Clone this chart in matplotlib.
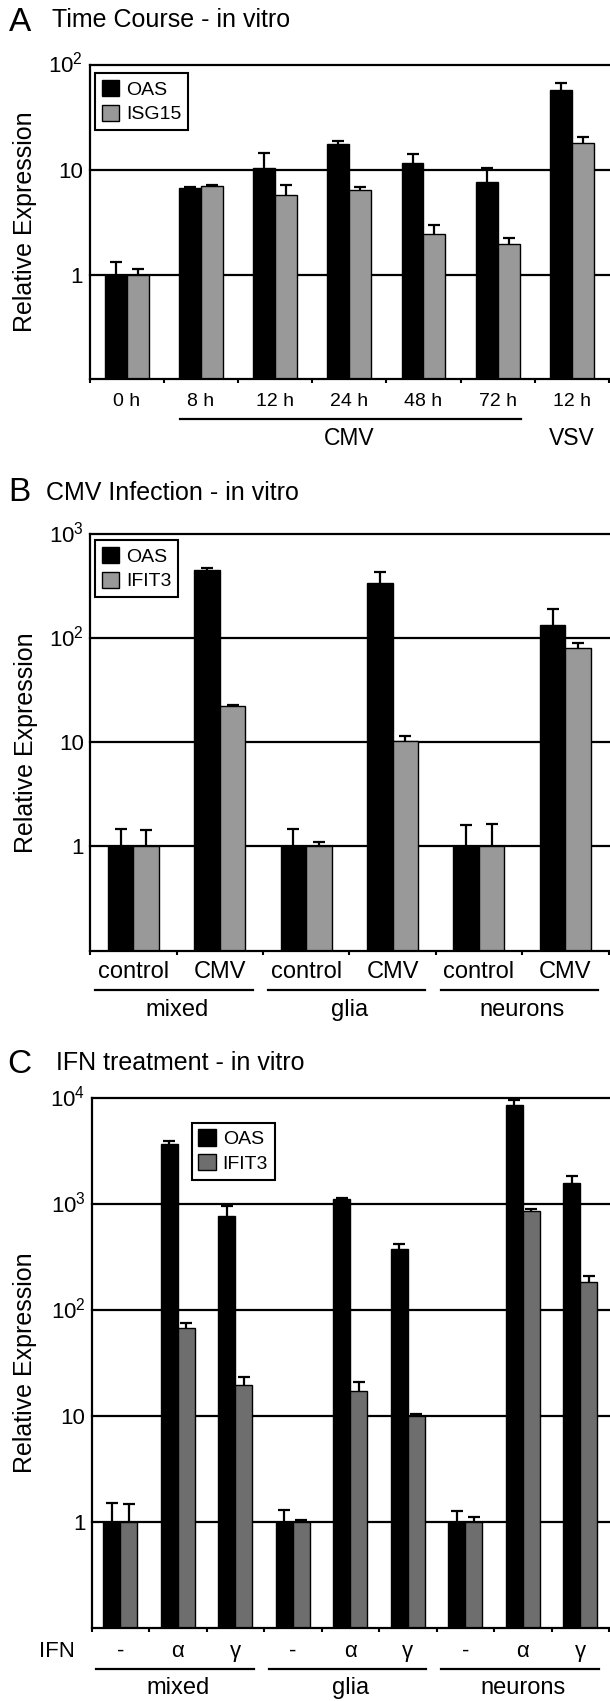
import matplotlib
matplotlib.use("Agg")
import matplotlib.pyplot as plt
import numpy as np
from matplotlib.transforms import offset_copy, ScaledTranslation
from matplotlib.patches import Patch
from matplotlib.lines import Line2D

plt.rcParams['font.family'] = ['Liberation Sans', 'DejaVu Sans']
plt.rcParams['mathtext.fontset'] = 'custom'
plt.rcParams['mathtext.rm'] = 'Liberation Sans'

# ---------------- data ----------------
A_labels = ['0 h', '8 h', '12 h', '24 h', '48 h', '72 h', '12 h']
A_oas = [1.0, 6.7, 10.4, 17.8, 11.5, 7.65, 58.2]
A_oas_top = [1.32, 6.85, 14.5, 18.7, 14.1, 10.4, 68.0]
A_isg = [1.0, 7.0, 5.7, 6.4, 2.46, 1.95, 18.0]
A_isg_top = [1.12, 7.15, 7.2, 6.8, 3.0, 2.25, 20.4]

B_labels = ['control', 'CMV', 'control', 'CMV', 'control', 'CMV']
B_groups = ['mixed', 'glia', 'neurons']
B_oas = [1.0, 450, 1.0, 343, 1.0, 133.5]
B_oas_top = [1.48, 473, 1.48, 433, 1.61, 190]
B_ifit = [1.0, 22.3, 1.0, 10.3, 1.0, 81.6]
B_ifit_top = [1.45, 23.0, 1.1, 11.5, 1.64, 90]

C_labels = ['-', 'α', 'γ', '-', 'α', 'γ', '-', 'α', 'γ']
C_groups = ['mixed', 'glia', 'neurons']
C_oas = [1.0, 3690, 771, 1.0, 1115, 376, 1.0, 8700, 1590]
C_oas_top = [1.51, 3910, 957, 1.29, 1147, 425, 1.26, 9600, 1838]
C_ifit = [1.0, 67, 19.5, 1.0, 17.1, 9.96, 1.0, 865, 185]
C_ifit_top = [1.47, 74.7, 23.4, 1.05, 21, 10.4, 1.11, 891, 210]

LIGHT = '#999999'
DARK = '#6e6e6e'

W, H = 610, 1701
fig = plt.figure(figsize=(W / 100, H / 100), dpi=100)


def axes_px(l, t, r, b):
    return fig.add_axes([l / W, 1 - b / H, (r - l) / W, (b - t) / H])


def draw_panel(ax, oas, oas_top, other, other_top, color, ymax_exp, ylbl_x_px, left_px, width_px):
    n = len(oas)
    x = np.arange(n)
    w = 0.295
    ymin = 0.1
    ax.set_yscale('log')
    ax.set_ylim(ymin, 10 ** ymax_exp)
    ax.set_xlim(-0.5, n - 0.5)
    ax.set_axisbelow(True)
    ax.bar(x - w / 2, np.array(oas) - ymin, width=w, bottom=ymin, color='black',
           edgecolor='black', linewidth=1.0, zorder=2)
    ax.bar(x + w / 2, np.array(other) - ymin, width=w, bottom=ymin, color=color,
           edgecolor='black', linewidth=1.0, zorder=2)
    for xs, v, t in ((x - w / 2, oas, oas_top), (x + w / 2, other, other_top)):
        v = np.array(v, float)
        t = np.array(t, float)
        eb = ax.errorbar(xs, v, yerr=[np.zeros_like(v), t - v], fmt='none', ecolor='black',
                         elinewidth=1.6, capsize=4.3, capthick=1.6, zorder=3)
        eb[1][0].set_visible(False)
    ticks = [10 ** k for k in range(0, ymax_exp + 1)]
    tl = []
    for k in range(0, ymax_exp + 1):
        if k == 0:
            tl.append('1')
        elif k == 1:
            tl.append('10')
        else:
            tl.append(r'$\mathregular{10^{%d}}$' % k)
    ax.set_yticks(ticks, tl)
    ax.yaxis.set_minor_locator(matplotlib.ticker.NullLocator())
    ax.tick_params(axis='y', length=0, pad=4.5, labelsize=16)
    for lab in ax.get_yticklabels():
        lab.set_va('baseline')
        lab.set_transform(lab.get_transform() + ScaledTranslation(0, -8 / 100, fig.dpi_scale_trans))
    ax.grid(axis='y', which='major', color='black', linewidth=1.6)
    for gl in ax.get_ygridlines():
        gl.set_clip_on(False)
    ax.set_xticks(x, [''] * n)
    ax.set_xticks(np.arange(-0.5, n), minor=True)
    ax.tick_params(axis='x', which='major', length=0)
    ax.tick_params(axis='x', which='minor', length=3, width=1.5, direction='out', color='black')
    for s in ('top', 'right'):
        ax.spines[s].set_visible(False)
    for s in ('left', 'bottom'):
        ax.spines[s].set_linewidth(1.6)
    ax.set_ylabel('Relative Expression', fontsize=18, va='center')
    ax.yaxis.set_label_coords((ylbl_x_px - left_px) / width_px, 0.5)
    return x


def below(ax, xv, dy, s, fs):
    tr = offset_copy(ax.get_xaxis_transform(), fig=fig, y=-dy, units='dots')
    ax.text(xv, 0, s, transform=tr, ha='center', va='center', fontsize=fs, clip_on=False)


def hline_below(ax, x0, x1, dy):
    tr = offset_copy(ax.get_xaxis_transform(), fig=fig, y=-dy, units='dots')
    ax.add_line(Line2D([x0, x1], [0, 0], transform=tr, color='black', linewidth=1.6, clip_on=False))


def legend(ax, names, colors, x0, y1):
    hs = [Patch(facecolor=c, edgecolor='black', linewidth=1.0) for c in colors]
    lg = ax.legend(hs, names, loc='upper left', bbox_to_anchor=(x0, y1), borderaxespad=0,
                   fancybox=False, edgecolor='black', framealpha=1, fontsize=14,
                   handlelength=0.9, handleheight=0.9, handletextpad=0.35,
                   borderpad=0.35, labelspacing=0.3)
    lg.get_frame().set_linewidth(1.5)
    lg.set_zorder(5)


def title(letter, lx, lbase, text, tx, tbase):
    fig.text(lx / W, 1 - lbase / H, letter, fontsize=24, ha='left', va='baseline')
    fig.text(tx / W, 1 - tbase / H, text, fontsize=18, ha='left', va='baseline')


# ---------------- Panel A ----------------
axA = axes_px(89.5, 65, 609, 379.3)
xA = draw_panel(axA, A_oas, A_oas_top, A_isg, A_isg_top, LIGHT, 2, 25, 89.5, 519.5)
for xi, s in zip(xA, A_labels):
    below(axA, xi, 22.4, s, 14)
hline_below(axA, 0.72, 5.32, 40)
below(axA, 3, 59, 'CMV', 16.5)
below(axA, 6, 59, 'VSV', 16.5)
legend(axA, ['OAS', 'ISG15'], ['black', LIGHT], 0.0106, 0.9736)
title('A', 9, 31, 'Time Course - in vitro', 52, 27)

# ---------------- Panel B ----------------
axB = axes_px(90.3, 534.3, 608.5, 950.5)
xB = draw_panel(axB, B_oas, B_oas_top, B_ifit, B_ifit_top, LIGHT, 3, 26, 90.3, 518.2)
for xi, s in zip(xB, B_labels):
    below(axB, xi, 21.2, s, 17)
for g, name in enumerate(B_groups):
    hline_below(axB, 2 * g - 0.44, 2 * g + 1.38, 39.5)
    below(axB, 2 * g + 0.5, 59.5, name, 17)
legend(axB, ['OAS', 'IFIT3'], ['black', LIGHT], 0.009, 0.986)
title('B', 8, 501, 'CMV Infection - in vitro', 46.5, 500)

# ---------------- Panel C ----------------
axC = axes_px(91.7, 1098.3, 609, 1627.7)
xC = draw_panel(axC, C_oas, C_oas_top, C_ifit, C_ifit_top, DARK, 4, 25, 91.7, 517.3)
for xi, s in zip(xC, C_labels):
    below(axC, xi, 23.3, s, 16)
for g, name in enumerate(C_groups):
    hline_below(axC, 3 * g - 0.42, 3 * g + 2.32, 41.6)
    below(axC, 3 * g + 1, 60.6, name, 17)
trI = offset_copy(axC.transAxes, fig=fig, y=-23.3, units='dots')
axC.text((56.7 - 91.7) / 517.3, 0, 'IFN', transform=trI, ha='center', va='center',
         fontsize=16, clip_on=False)
legend(axC, ['OAS', 'IFIT3'], ['black', DARK], 0.193, 0.954)
title('C', 7.5, 1073, 'IFN treatment - in vitro', 56, 1070)

fig.savefig('out.png', dpi=100)
